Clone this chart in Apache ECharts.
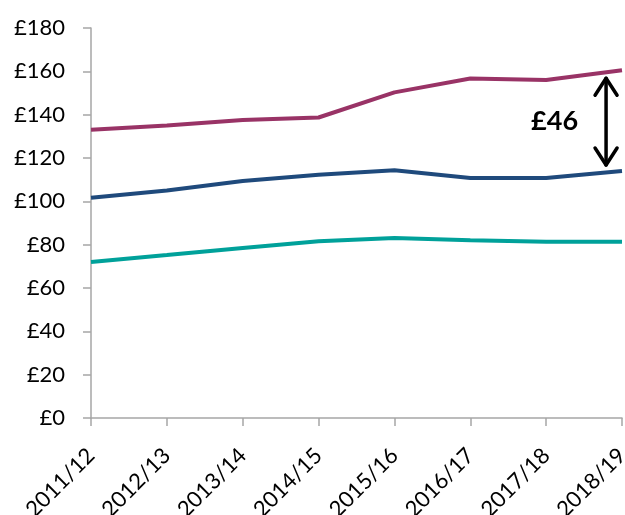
<!DOCTYPE html>
<html>
<head>
<meta charset="utf-8">
<script src="https://cdn.jsdelivr.net/npm/echarts@6/dist/echarts.min.js"></script>
<style>
  html, body { margin: 0; padding: 0; background: #fff; }
  #chart { width: 625px; height: 515px; }
</style>
</head>
<body>
<div id="chart"></div>
<script>
// Financial years on the category axis
const years = ['2011/12', '2012/13', '2013/14', '2014/15', '2015/16', '2016/17', '2017/18', '2018/19'];

// Values in £ for the three series
const upperSeries = [133, 135, 137.5, 138.7, 150.3, 156.7, 156, 160.5];
const middleSeries = [101.7, 105, 109.4, 112.3, 114.3, 110.8, 110.8, 114];
const lowerSeries = [72, 75.2, 78.5, 81.6, 83.1, 82, 81.4, 81.4];

// Y axis tick range
const yMin = 0, yMax = 180, yStep = 20;

// Gap annotation text
const gapLabel = '£46';

const FONT = 'Lato';
const AXIS_GREY = '#a6a6a6';

const chart = echarts.init(document.getElementById('chart'), null, { renderer: 'canvas' });

function lineSeries(name, data, color) {
  return {
    name: name,
    type: 'line',
    data: data,
    symbol: 'none',
    smooth: false,
    lineStyle: { color: color, width: 4 },
    itemStyle: { color: color },
    animation: false
  };
}

chart.setOption({
  animation: false,
  grid: { left: 91, right: 3, top: 28, bottom: 97, containLabel: false, outerBoundsMode: 'none' },
  xAxis: {
    type: 'category',
    data: years,
    boundaryGap: false,
    axisLine: { show: true, lineStyle: { color: AXIS_GREY, width: 1.5 } },
    axisTick: { show: true, alignWithLabel: true, length: 8, lineStyle: { color: AXIS_GREY, width: 1.5 } },
    axisLabel: {
      rotate: 45,
      margin: 34,
      interval: 0,
      color: '#000',
      fontFamily: FONT,
      fontSize: 22,
      hideOverlap: false
    },
    splitLine: { show: false }
  },
  yAxis: {
    type: 'value',
    min: yMin,
    max: yMax,
    interval: yStep,
    axisLine: { show: true, lineStyle: { color: AXIS_GREY, width: 1.5 } },
    axisTick: { show: true, length: 8, lineStyle: { color: AXIS_GREY, width: 1.5 } },
    axisLabel: {
      margin: 26,
      color: '#000',
      fontFamily: FONT,
      fontSize: 22,
      formatter: function (v) { return '£' + v; }
    },
    splitLine: { show: false }
  },
  series: [
    lineSeries('upper', upperSeries, '#993366'),
    lineSeries('middle', middleSeries, '#1f4a7c'),
    lineSeries('lower', lowerSeries, '#00a19a')
  ]
});

// Double-headed arrow showing the gap between the upper and middle series in the last year
function drawGapArrow() {
  const last = years.length - 1;
  const top = chart.convertToPixel({ gridIndex: 0 }, [last, upperSeries[last]]);
  const bottom = chart.convertToPixel({ gridIndex: 0 }, [last, middleSeries[last]]);
  const prev = chart.convertToPixel({ gridIndex: 0 }, [last - 1, upperSeries[last]]);
  const step = top[0] - prev[0];
  const ax = top[0] - step * 0.21;
  const y1 = top[1] + 8;
  const y2 = bottom[1] - 6;
  const hw = 11, hh = 17;
  const stroke = { stroke: '#000', lineWidth: 3.5, fill: null, lineCap: 'round', lineJoin: 'round' };
  chart.setOption({
    graphic: [
      { type: 'line', shape: { x1: ax, y1: y1, x2: ax, y2: y2 }, style: stroke, silent: true },
      { type: 'polyline', shape: { points: [[ax - hw, y1 + hh], [ax, y1], [ax + hw, y1 + hh]] }, style: stroke, silent: true },
      { type: 'polyline', shape: { points: [[ax - hw, y2 - hh], [ax, y2], [ax + hw, y2 - hh]] }, style: stroke, silent: true },
      {
        type: 'text',
        x: ax - 28,
        y: (y1 + y2) / 2,
        style: {
          text: gapLabel,
          fill: '#000',
          font: 'bold 27px ' + FONT,
          textAlign: 'right',
          textVerticalAlign: 'middle'
        },
        silent: true
      }
    ]
  });
}
drawGapArrow();
</script>
</body>
</html>
